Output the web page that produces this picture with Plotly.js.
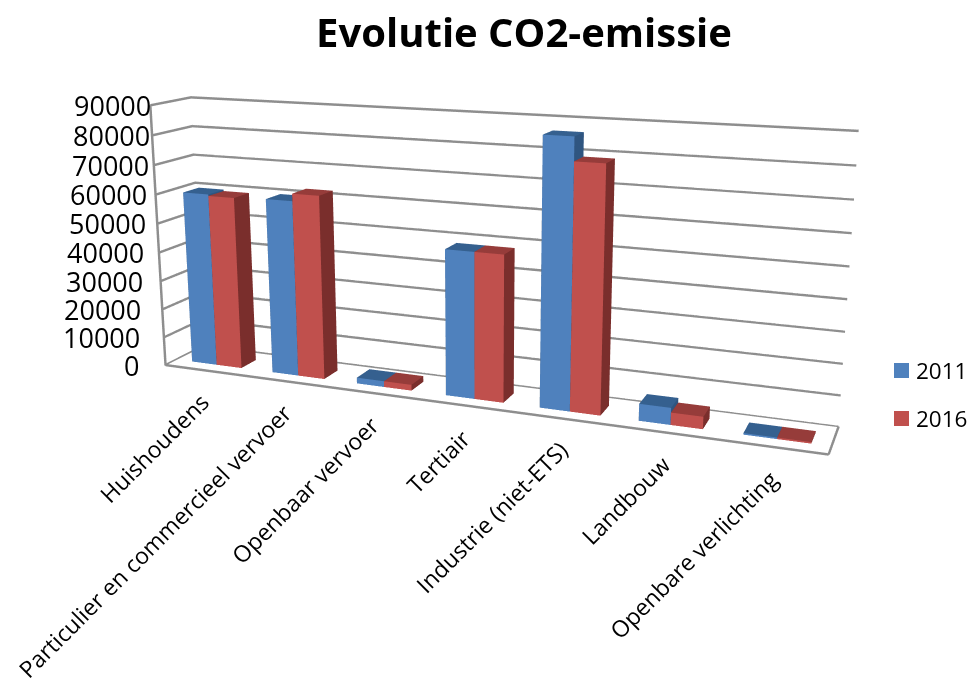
<!DOCTYPE html>
<html><head><meta charset="utf-8">
<script src="https://cdn.plot.ly/plotly-3.0.1.min.js"></script>
<style>html,body{margin:0;padding:0;background:#fff;width:971px;height:684px;overflow:hidden}#c{position:absolute;left:-12px;top:-291px;width:983px;height:1100px}</style>
</head><body><div id="c"></div>
<script>
const categories = ["Huishoudens","Particulier en commercieel vervoer","Openbaar vervoer","Tertiair","Industrie (niet-ETS)","Landbouw","Openbare verlichting"];
const values2011 = [60000,60000,2000,48500,86500,5500,500];
const values2016 = [59500,62500,2000,48500,79000,4000,500];
const zTicks = [0,10000,20000,30000,40000,50000,60000,70000,80000,90000];
const colors2011 = {front:"#4F81BD",top:"#35608F",side:"#2F5580"};
const colors2016 = {front:"#C0504D",top:"#963C3A",side:"#7A2E2C"};
const barW = 0.31, y0 = 0.28, y1 = 0.68;
const leftOff = 12, topOff = 291, W = 983, H = 1100;
const py = p => 1-(p+topOff)/H;
const px = p => (p+leftOff)/W;

function bars(vals, off, col, name){
  const x=[],y=[],z=[],i=[],j=[],k=[],fc=[];
  vals.forEach((v,c)=>{
    const n=x.length, a=c+off, b=a+barW;
    [[a,y0,0],[b,y0,0],[b,y1,0],[a,y1,0],[a,y0,v],[b,y0,v],[b,y1,v],[a,y1,v]].forEach(p=>{x.push(p[0]);y.push(p[1]);z.push(p[2]);});
    const faces=[[0,1,5,col.front],[0,5,4,col.front],[1,2,6,col.side],[1,6,5,col.side],[4,5,6,col.top],[4,6,7,col.top],[0,3,7,col.side],[0,7,4,col.side],[2,3,7,col.side],[2,7,6,col.side]];
    faces.forEach(f=>{i.push(n+f[0]);j.push(n+f[1]);k.push(n+f[2]);fc.push(f[3]);});
  });
  return {type:"mesh3d",name,x,y,z,i,j,k,facecolor:fc,flatshading:true,hoverinfo:"skip",
    lighting:{ambient:1,diffuse:0,specular:0,roughness:1,fresnel:0},showscale:false};
}
const xLabelAnn = categories.map((t,c)=>({x:c+0.1,y:0,z:0,text:t,showarrow:false,textangle:-45,xanchor:"right",yanchor:"top",xshift:5,yshift:-12,font:{family:"Open Sans",size:23,color:"#000"}}));
const zLabelAnn = zTicks.map(v=>({x:-0.5,y:0,z:v,text:String(v),showarrow:false,xanchor:"right",yanchor:"middle",xshift:-25+28*v/90000,font:{family:"Open Sans",size:27,color:"#000"}}));
const layout = {
  width:W,height:H,margin:{l:0,r:0,t:0,b:0},paper_bgcolor:"#fff",showlegend:false,
  title:{text:"<b>Evolutie CO2-emissie</b>",x:px(524),xanchor:"center",y:py(33),yanchor:"middle",font:{family:"Open Sans",size:40,color:"#000"}},
  scene:{
    domain:{x:[0.0,1.0],y:[0.0,1.0]},
    aspectmode:"manual",aspectratio:{x:2.44,y:0.26,z:0.98},
    camera:{eye:{x:1.62,y:-4.14,z:1.08},center:{x:0,y:0,z:0},up:{x:-0.03,y:0,z:1},projection:{type:"perspective"}},
    xaxis:{range:[-0.5,6.5],showticklabels:false,ticks:"",showgrid:false,showline:true,linecolor:"#8E8E8E",linewidth:5,showbackground:true,backgroundcolor:"#fff",title:{text:""},showspikes:false,zeroline:false},
    yaxis:{range:[0,1],showticklabels:false,ticks:"",showgrid:false,showline:true,linecolor:"#8E8E8E",linewidth:5,showbackground:true,backgroundcolor:"#fff",title:{text:""},showspikes:false,zeroline:false},
    zaxis:{range:[0,90000],tickvals:zTicks,showticklabels:false,ticks:"",showgrid:true,gridcolor:"#8E8E8E",gridwidth:5,showline:true,linecolor:"#8E8E8E",linewidth:5,showbackground:true,backgroundcolor:"#fff",title:{text:""},showspikes:false,zeroline:false},
    annotations:xLabelAnn.concat(zLabelAnn)
  },
  shapes:[
    {type:"rect",xref:"paper",yref:"paper",x0:px(894),x1:px(909),y0:py(378),y1:py(363),fillcolor:colors2011.front,line:{width:0}},
    {type:"rect",xref:"paper",yref:"paper",x0:px(894),x1:px(909),y0:py(426),y1:py(411),fillcolor:colors2016.front,line:{width:0}}
  ],
  annotations:[
    {xref:"paper",yref:"paper",x:px(914),y:py(370),text:"2011",showarrow:false,xanchor:"left",yanchor:"middle",font:{family:"Open Sans",size:22.5,color:"#000"}},
    {xref:"paper",yref:"paper",x:px(914),y:py(418),text:"2016",showarrow:false,xanchor:"left",yanchor:"middle",font:{family:"Open Sans",size:22.5,color:"#000"}}
  ]
};
Plotly.newPlot("c",[bars(values2011,-0.30,colors2011,"2011"),bars(values2016,0.01,colors2016,"2016")],layout,{displayModeBar:false});
</script></body></html>
